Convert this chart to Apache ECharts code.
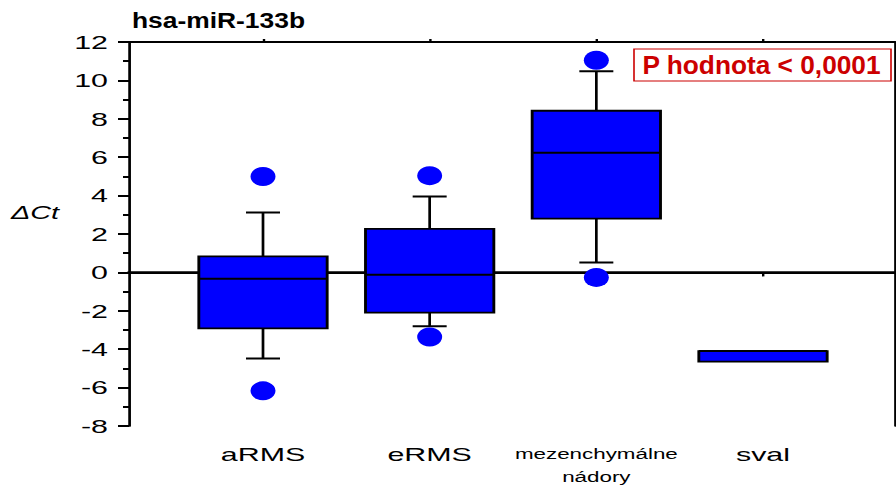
<!DOCTYPE html>
<html>
<head>
<meta charset="utf-8">
<script src="https://cdn.jsdelivr.net/npm/echarts@6/dist/echarts.min.js"></script>
<style>
  html, body { margin: 0; padding: 0; background: #fff; overflow: hidden; }
  /* the figure is drawn narrow and widened horizontally */
  #chart { width: 560px; height: 490px; transform: scaleX(1.6); transform-origin: 0 0; }
</style>
</head>
<body>
<div id="chart"></div>
<script>
// hsa-miR-133b: ΔCt by tumour group
const categories = ['aRMS', 'eRMS', 'mezenchymálne\nnádory', 'sval'];
const whiskerLow  = [-4.48, -2.81, 0.52, -4.65];
const quartile1   = [-2.92, -2.09, 2.80, -4.65];
const medianVals  = [-0.33, -0.12, 6.23, -4.10];
const quartile3   = [ 0.83,  2.27, 8.42, -4.10];
const whiskerHigh = [ 3.12,  3.95, 10.48, -4.10];
const outlierGroup = [1, 1, 2, 2, 3, 3];
const outlierValue = [5.0, -6.17, 5.04, -3.36, 11.05, -0.26];
const yTicks = { min: -8, max: 12, step: 2 };

const SX = 1.6; // horizontal widening applied by CSS

const boxData = categories.map((c, i) => [i + 1, whiskerLow[i], quartile1[i], medianVals[i], quartile3[i], whiskerHigh[i]]);
const outlierData = outlierGroup.map((g, i) => [g, outlierValue[i]]);

function renderBox(params, api) {
  const x = api.value(0);
  const low = api.coord([x, api.value(1)]);
  const q1 = api.coord([x, api.value(2)]);
  const med = api.coord([x, api.value(3)]);
  const q3 = api.coord([x, api.value(4)]);
  const high = api.coord([x, api.value(5)]);
  const unit = api.size([1, 0])[0];
  const half = unit * 0.385;
  const cap = unit * 0.102;
  const cx = q1[0];
  const lineStyle = { stroke: '#000', lineWidth: 1.7 };
  const capStyle = { stroke: '#000', lineWidth: 2 };
  const children = [];
  if (high[1] < q3[1]) {
    children.push({ type: 'line', shape: { x1: cx, y1: high[1], x2: cx, y2: q3[1] }, style: lineStyle });
  }
  if (low[1] > q1[1]) {
    children.push({ type: 'line', shape: { x1: cx, y1: q1[1], x2: cx, y2: low[1] }, style: lineStyle });
  }
  children.push({
    type: 'rect',
    shape: { x: cx - half, y: q3[1], width: half * 2, height: q1[1] - q3[1] },
    style: { fill: '#0000FF', stroke: '#000', lineWidth: 1.8 }
  });
  children.push({ type: 'line', shape: { x1: cx - half, y1: med[1], x2: cx + half, y2: med[1] }, style: capStyle });
  if (high[1] < q3[1]) {
    children.push({ type: 'line', shape: { x1: cx - cap, y1: high[1], x2: cx + cap, y2: high[1] }, style: capStyle });
  }
  if (low[1] > q1[1]) {
    children.push({ type: 'line', shape: { x1: cx - cap, y1: low[1], x2: cx + cap, y2: low[1] }, style: capStyle });
  }
  return { type: 'group', children };
}

const font = '"Liberation Sans", Arial, sans-serif';
const catIdx = categories.map((c, i) => i + 1);

const chart = echarts.init(document.getElementById('chart'), null, { renderer: 'svg' });
chart.setOption({
  animation: false,
  backgroundColor: '#fff',
  grid: { left: 129 / SX, right: 1 / SX, top: 42, bottom: 64 },
  xAxis: [{
    type: 'value', min: 0.196, max: 4.792, position: 'bottom',
    axisLine: { show: true, lineStyle: { color: '#000', width: 2.5 } },
    axisTick: { show: true, customValues: catIdx, length: 4, lineStyle: { color: '#000', width: 1.5 } },
    splitLine: { show: false },
    axisLabel: {
      show: true, customValues: catIdx, margin: 17, color: '#000', fontFamily: font,
      formatter: v => {
        const c = categories[Math.round(v) - 1] || '';
        return c.indexOf('\n') >= 0 ? c.split('\n').map(s => '{s|' + s + '}').join('\n') : '{b|' + c + '}';
      },
      rich: {
        b: { fontSize: 19, lineHeight: 22, fontFamily: font, color: '#000' },
        s: { fontSize: 14, lineHeight: 23, fontFamily: font, color: '#000' }
      }
    }
  }, {
    type: 'value', min: 0.196, max: 4.792, position: 'top',
    axisLine: { show: true, onZero: false, lineStyle: { color: '#000', width: 2 } },
    axisTick: { show: true, customValues: catIdx, length: 3, lineStyle: { color: '#000', width: 1.5 } },
    axisLabel: { show: false },
    splitLine: { show: false }
  }],
  yAxis: [{
    type: 'value', min: yTicks.min, max: yTicks.max, interval: yTicks.step,
    axisLine: { show: true, onZero: false, lineStyle: { color: '#000', width: 1.7 } },
    axisTick: { show: true, length: 11 / SX, lineStyle: { color: '#000', width: 2 } },
    minorTick: { show: true, splitNumber: 2, length: 6 / SX, lineStyle: { color: '#000', width: 2 } },
    axisLabel: { margin: 21 / SX, fontSize: 19, color: '#000', fontFamily: font },
    splitLine: { show: false }
  }, {
    type: 'value', min: yTicks.min, max: yTicks.max, position: 'right',
    axisLine: { show: true, onZero: false, lineStyle: { color: '#000', width: 1.3 } },
    axisTick: { show: false }, axisLabel: { show: false }, splitLine: { show: false }
  }],
  graphic: [
    {
      type: 'text', x: 132 / SX, y: 20, scaleX: 0.75, z: 10,
      style: { text: 'hsa-miR-133b', font: 'bold 22px ' + font, fill: '#000', align: 'left', verticalAlign: 'middle' }
    },
    {
      type: 'text', x: 35 / SX, y: 213, z: 10,
      style: { text: 'ΔCt', font: 'italic 18px ' + font, fill: '#000', align: 'center', verticalAlign: 'middle' }
    },
    {
      type: 'rect', z: 10,
      shape: { x: 634 / SX, y: 49, width: 257 / SX, height: 32 },
      style: { fill: '#fff', stroke: '#CC0000', lineWidth: 1 }
    },
    {
      type: 'text', x: 761.5 / SX, y: 65.5, scaleX: 0.657, z: 11,
      style: { text: 'P hodnota < 0,0001', font: 'bold 25px ' + font, fill: '#CC0000', align: 'center', verticalAlign: 'middle' }
    }
  ],
  series: [{
    type: 'custom',
    renderItem: renderBox,
    data: boxData,
    encode: { x: 0, y: [1, 2, 3, 4, 5] },
    z: 2,
    markLine: {
      silent: true, symbol: 'none', z: 1,
      label: { show: false },
      lineStyle: { color: '#000', width: 2, type: 'solid' },
      data: [{ yAxis: 0 }]
    }
  }, {
    type: 'scatter',
    data: outlierData,
    symbol: 'circle',
    symbolSize: [25 / SX, 19],
    itemStyle: { color: '#0000FF', opacity: 1 },
    z: 3
  }]
});
</script>
</body>
</html>
